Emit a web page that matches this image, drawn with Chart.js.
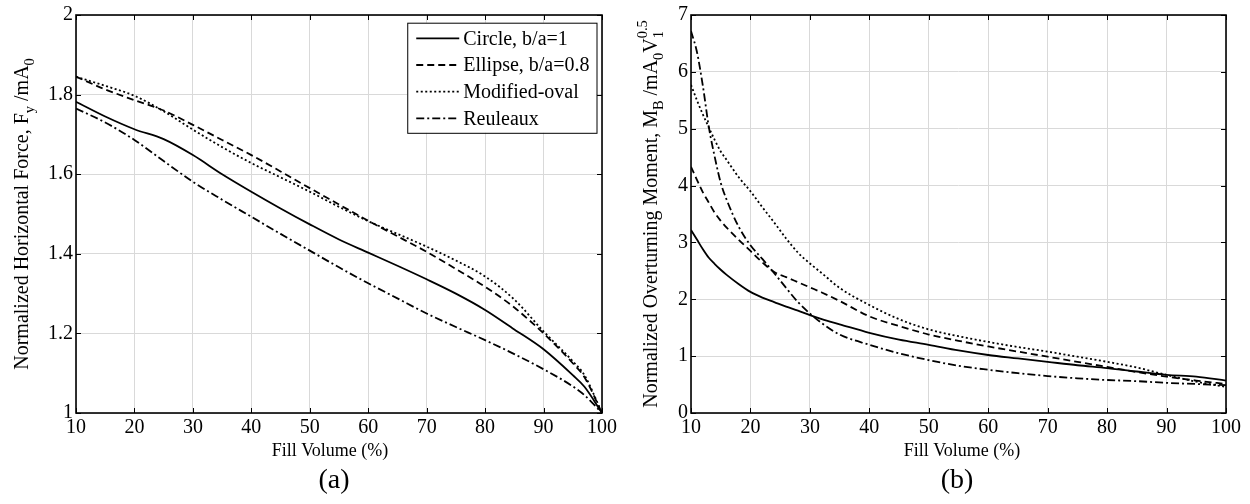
<!DOCTYPE html>
<html>
<head>
<meta charset="utf-8">
<script src="https://cdn.jsdelivr.net/npm/chart.js@4.4.0/dist/chart.umd.min.js"></script>
<style>
  html, body { margin: 0; padding: 0; background: #fff; }
  #wrap { position: relative; width: 1250px; height: 504px; }
  canvas { position: absolute; top: 0; }
</style>
</head>
<body>
<div id="wrap">
  <canvas id="chartA" width="625" height="504" style="left:0"></canvas>
  <canvas id="chartB" width="625" height="504" style="left:625px"></canvas>
</div>
<script>
// (a) horizontal force vs fill volume
const fillA = [10, 15, 20, 25, 30, 35, 40, 45, 50, 55, 60, 65, 70, 75, 80, 85, 90, 95, 97, 100];
const circleA   = [1.782, 1.745, 1.713, 1.688, 1.648, 1.600, 1.556, 1.514, 1.474, 1.436, 1.403, 1.370, 1.336, 1.300, 1.259, 1.210, 1.160, 1.095, 1.066, 1.0];
const ellipseA  = [1.845, 1.813, 1.786, 1.760, 1.724, 1.686, 1.648, 1.607, 1.565, 1.524, 1.483, 1.444, 1.405, 1.362, 1.317, 1.265, 1.200, 1.125, 1.090, 1.0];
const ovalA     = [1.845, 1.822, 1.797, 1.758, 1.712, 1.668, 1.628, 1.592, 1.556, 1.518, 1.482, 1.450, 1.418, 1.383, 1.343, 1.285, 1.205, 1.130, 1.095, 1.0];
const reuleauxA = [1.765, 1.730, 1.686, 1.633, 1.581, 1.536, 1.493, 1.450, 1.408, 1.366, 1.326, 1.288, 1.250, 1.216, 1.183, 1.148, 1.110, 1.067, 1.045, 1.0];

// (b) overturning moment vs fill volume
const fillB = [10, 11, 12, 13, 14, 15, 16, 18, 20, 22, 24, 26, 28, 30, 32, 35, 40, 45, 50, 55, 60, 65, 70, 75, 80, 85, 90, 95, 100];
const circleB   = [3.22, 3.05, 2.88, 2.73, 2.62, 2.52, 2.43, 2.27, 2.13, 2.03, 1.95, 1.87, 1.80, 1.72, 1.65, 1.56, 1.41, 1.29, 1.20, 1.10, 1.02, 0.96, 0.90, 0.84, 0.79, 0.73, 0.67, 0.64, 0.57];
const ellipseB  = [4.33, 4.10, 3.88, 3.70, 3.52, 3.38, 3.26, 3.05, 2.85, 2.65, 2.48, 2.39, 2.30, 2.21, 2.12, 1.97, 1.70, 1.53, 1.38, 1.27, 1.17, 1.08, 0.99, 0.90, 0.81, 0.72, 0.64, 0.57, 0.51];
const ovalB     = [5.77, 5.50, 5.25, 5.02, 4.80, 4.60, 4.45, 4.15, 3.90, 3.62, 3.35, 3.07, 2.82, 2.63, 2.46, 2.20, 1.90, 1.65, 1.47, 1.35, 1.25, 1.16, 1.08, 0.99, 0.90, 0.80, 0.67, 0.55, 0.46];
const reuleauxB = [6.72, 6.35, 5.75, 5.03, 4.50, 4.05, 3.75, 3.28, 2.95, 2.71, 2.46, 2.20, 1.95, 1.75, 1.58, 1.38, 1.20, 1.05, 0.93, 0.83, 0.76, 0.70, 0.65, 0.61, 0.58, 0.56, 0.53, 0.51, 0.49];

const xTicks = [10, 20, 30, 40, 50, 60, 70, 80, 90, 100];
const yTicksA = [1, 1.2, 1.4, 1.6, 1.8, 2];
const yTicksB = [0, 1, 2, 3, 4, 5, 6, 7];
const seriesNames = ['Circle, b/a=1', 'Ellipse, b/a=0.8', 'Modified-oval', 'Reuleaux'];

const lineDash = [[], [7, 4], [2, 2.5], [8, 3, 2, 3]];
const FONT = 'Liberation Serif, Times New Roman, serif';

function pts(xs, ys) {
  return xs.map((x, i) => ({ x: x, y: ys[i] }));
}

// rotated y label with sub/superscripts; pieces are [text, kind, extra]
function drawRich(ctx, pieces, cx, cy, size) {
  const small = size * 0.72;
  const widthOf = p => {
    if (p[1] === '') { ctx.font = size + 'px ' + FONT; return ctx.measureText(p[0]).width; }
    ctx.font = small + 'px ' + FONT;
    let w = ctx.measureText(p[0]).width;
    if (p[2]) w = Math.max(w, ctx.measureText(p[2]).width);
    return w;
  };
  const total = pieces.reduce((s, p) => s + widthOf(p), 0);
  ctx.save();
  ctx.translate(cx, cy);
  ctx.rotate(-Math.PI / 2);
  ctx.fillStyle = '#000';
  ctx.textAlign = 'left';
  ctx.textBaseline = 'alphabetic';
  let x = -total / 2;
  const base = size * 0.33;
  pieces.forEach(p => {
    const w = widthOf(p);
    if (p[1] === '') {
      ctx.font = size + 'px ' + FONT;
      ctx.fillText(p[0], x, base);
    } else {
      ctx.font = small + 'px ' + FONT;
      ctx.fillText(p[0], x, base + size * 0.3);
      if (p[2]) ctx.fillText(p[2], x, base - size * 0.5);
    }
    x += w;
  });
  ctx.restore();
}

const framePlugin = {
  id: 'frame',
  afterDraw(chart, args, opts) {
    const ctx = chart.ctx;
    const a = chart.chartArea;
    const xs = chart.scales.x, ys = chart.scales.y;
    ctx.save();

    // inward tick marks on all four sides
    ctx.strokeStyle = '#000';
    ctx.lineWidth = 1;
    ctx.beginPath();
    xs.ticks.forEach(t => {
      const px = Math.round(xs.getPixelForValue(t.value)) + 0.5;
      ctx.moveTo(px, a.bottom); ctx.lineTo(px, a.bottom - 5);
      ctx.moveTo(px, a.top); ctx.lineTo(px, a.top + 5);
    });
    ys.ticks.forEach(t => {
      const py = Math.round(ys.getPixelForValue(t.value)) + 0.5;
      ctx.moveTo(a.left, py); ctx.lineTo(a.left + 5, py);
      ctx.moveTo(a.right, py); ctx.lineTo(a.right - 5, py);
    });
    ctx.stroke();

    // axes box
    ctx.lineWidth = 1.6;
    ctx.strokeRect(a.left, a.top, a.right - a.left, a.bottom - a.top);

    // legend
    if (opts.legend) {
      ctx.font = '20px ' + FONT;
      const sets = chart.data.datasets;
      const maxW = Math.max(...sets.map(d => ctx.measureText(d.label).width));
      const sample = 43, rowH = 26.7;
      const w = 9 + sample + 4 + maxW + 7;
      const h = 15.6 + rowH * (sets.length - 1) + 14.4;
      const bx = a.right - 5.5 - w, by = a.top + 7.7;
      ctx.fillStyle = '#fff';
      ctx.fillRect(bx, by, w, h);
      ctx.lineWidth = 1;
      ctx.strokeStyle = '#000';
      ctx.strokeRect(bx + 0.5, by + 0.5, w, h);
      ctx.textBaseline = 'middle';
      ctx.textAlign = 'left';
      sets.forEach((d, i) => {
        const cy = by + 15.6 + i * rowH;
        ctx.save();
        ctx.setLineDash(d.borderDash || []);
        ctx.lineWidth = d.borderWidth;
        ctx.beginPath();
        ctx.moveTo(bx + 9, cy); ctx.lineTo(bx + 9 + sample, cy);
        ctx.stroke();
        ctx.restore();
        ctx.fillStyle = '#000';
        ctx.fillText(d.label, bx + 9 + sample + 4, cy + 1);
      });
    }

    // axis titles and panel tag
    ctx.fillStyle = '#000';
    ctx.textAlign = 'center';
    ctx.textBaseline = 'middle';
    ctx.font = '18px ' + FONT;
    ctx.fillText('Fill Volume (%)', opts.xTitleX, 451);
    ctx.font = '28px ' + FONT;
    ctx.fillText(opts.tag, opts.tagX, 481);
    drawRich(ctx, opts.yTitle, opts.yTitleX, (a.top + a.bottom) / 2, 20);
    ctx.restore();
  }
};

function makeChart(id, xs, ys, yTicks, yAxisW, padRight, decimals, frame) {
  const ctx = document.getElementById(id).getContext('2d');
  return new Chart(ctx, {
    type: 'line',
    data: {
      datasets: ys.map((s, i) => ({
        label: seriesNames[i],
        data: pts(xs, s),
        borderColor: '#000',
        borderWidth: 1.8,
        borderDash: lineDash[i],
        pointRadius: 0,
        fill: false,
        cubicInterpolationMode: 'monotone'
      }))
    },
    options: {
      responsive: false,
      animation: false,
      layout: { padding: { left: 0, top: 15, right: padRight, bottom: 0 } },
      plugins: { legend: { display: false }, tooltip: { enabled: false }, frame: frame },
      scales: {
        x: {
          type: 'linear',
          min: xTicks[0], max: xTicks[xTicks.length - 1],
          afterBuildTicks: s => { s.ticks = xTicks.map(v => ({ value: v })); },
          afterFit: s => { s.height = 91; },
          grid: { color: '#d9d9d9', lineWidth: 1, drawTicks: false },
          border: { display: false },
          ticks: {
            color: '#000', padding: 3, maxRotation: 0, autoSkip: false,
            font: { family: FONT, size: 20 },
            callback: v => String(v)
          }
        },
        y: {
          type: 'linear',
          min: yTicks[0], max: yTicks[yTicks.length - 1],
          afterBuildTicks: s => { s.ticks = yTicks.map(v => ({ value: v })); },
          afterFit: s => { s.width = yAxisW; },
          grid: { color: '#d9d9d9', lineWidth: 1, drawTicks: false },
          border: { display: false },
          ticks: {
            color: '#000', padding: 3, autoSkip: false,
            font: { family: FONT, size: 20 },
            callback: v => String(+v.toFixed(decimals))
          }
        }
      }
    },
    plugins: [framePlugin]
  });
}

makeChart('chartA', fillA, [circleA, ellipseA, ovalA, reuleauxA], yTicksA, 76, 23, 1, {
  legend: true,
  xTitleX: 330,
  tag: '(a)',
  tagX: 334,
  yTitleX: 21,
  yTitle: [['Normalized Horizontal Force, F', ''], ['y', 'sub'], [' /mA', ''], ['0', 'sub']]
});

makeChart('chartB', fillB, [circleB, ellipseB, ovalB, reuleauxB], yTicksB, 66, 24, 0, {
  legend: false,
  xTitleX: 337,
  tag: '(b)',
  tagX: 332,
  yTitleX: 25,
  yTitle: [['Normalized Overturning Moment, M', ''], ['B', 'sub'], [' /mA', ''], ['0', 'sub'], ['V', ''], ['1', 'sub', '0.5']]
});
</script>
</body>
</html>
